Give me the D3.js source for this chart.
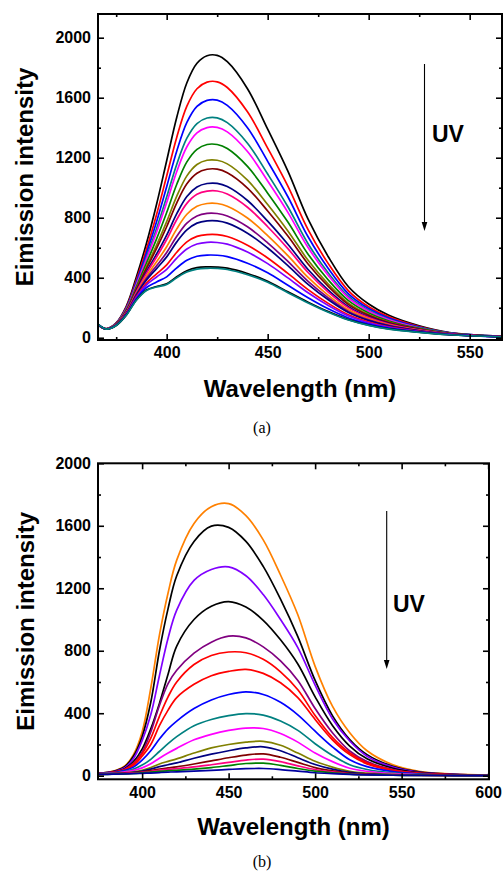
<!DOCTYPE html>
<html><head><meta charset="utf-8">
<script src="https://cdn.jsdelivr.net/npm/d3@7"></script>
<style>body{margin:0;background:#fff}svg{display:block}</style>
</head><body><svg id="c" width="504" height="877"></svg>
<script>
// ---------- Panel (a) data ----------
const aWavelength = [366, 370, 375, 380, 385, 390, 395, 400, 405, 410, 415, 420, 425, 430, 440, 450, 460, 470, 480, 490, 500, 510, 525, 540, 566];
const aSeries = [
  [85, 60, 100, 210, 405, 630, 890, 1180, 1470, 1700, 1830, 1880, 1882, 1840, 1660, 1390, 1110, 790, 540, 340, 225, 150, 80, 35, 10],
  [86, 60, 98, 203, 386, 591, 822, 1078, 1337, 1544, 1660, 1704, 1706, 1668, 1506, 1264, 1010, 721, 494, 313, 207, 139, 75, 33, 10],
  [86, 60, 96, 197, 373, 564, 774, 1007, 1245, 1435, 1542, 1582, 1584, 1549, 1400, 1176, 940, 673, 462, 293, 195, 131, 71, 32, 9],
  [86, 59, 95, 192, 360, 538, 728, 938, 1157, 1330, 1428, 1465, 1466, 1434, 1297, 1091, 873, 627, 432, 275, 183, 123, 67, 31, 9],
  [87, 59, 94, 190, 353, 524, 703, 901, 1108, 1273, 1366, 1401, 1402, 1372, 1241, 1045, 836, 601, 415, 265, 177, 119, 65, 30, 9],
  [87, 59, 92, 185, 340, 498, 659, 835, 1023, 1172, 1256, 1288, 1288, 1261, 1142, 964, 771, 557, 385, 247, 165, 112, 62, 29, 8],
  [87, 59, 91, 181, 329, 475, 618, 774, 944, 1079, 1155, 1183, 1183, 1159, 1050, 888, 712, 516, 358, 231, 155, 105, 58, 28, 8],
  [88, 59, 90, 178, 322, 462, 595, 740, 899, 1026, 1097, 1123, 1124, 1100, 998, 845, 678, 492, 342, 221, 149, 101, 57, 27, 8],
  [88, 59, 89, 174, 312, 441, 558, 684, 827, 942, 1005, 1028, 1029, 1008, 915, 777, 623, 455, 318, 207, 139, 95, 54, 26, 8],
  [88, 59, 89, 172, 306, 429, 538, 655, 788, 896, 956, 977, 978, 958, 870, 740, 594, 435, 304, 199, 134, 91, 52, 25, 7],
  [88, 59, 88, 168, 297, 411, 506, 607, 726, 823, 876, 895, 895, 877, 798, 681, 547, 402, 283, 186, 126, 86, 49, 25, 7],
  [89, 59, 87, 166, 290, 396, 480, 568, 676, 764, 812, 829, 828, 812, 740, 633, 509, 376, 266, 175, 119, 82, 47, 24, 7],
  [89, 58, 86, 163, 285, 385, 461, 539, 639, 719, 764, 779, 779, 764, 697, 598, 481, 356, 253, 168, 114, 79, 46, 23, 7],
  [89, 58, 85, 160, 275, 365, 426, 486, 570, 639, 676, 688, 688, 675, 617, 532, 429, 321, 229, 153, 105, 73, 43, 22, 7],
  [89, 58, 84, 157, 269, 353, 405, 456, 531, 592, 625, 636, 635, 624, 571, 494, 399, 300, 215, 145, 99, 69, 41, 22, 6],
  [90, 58, 83, 154, 260, 335, 372, 406, 466, 516, 543, 551, 550, 541, 497, 433, 350, 267, 193, 132, 91, 64, 39, 21, 6],
  [90, 58, 82, 151, 252, 318, 342, 360, 406, 446, 467, 472, 471, 464, 428, 377, 306, 237, 174, 121, 84, 59, 37, 20, 6],
  [90, 58, 82, 150, 250, 315, 338, 355, 400, 438, 458, 463, 462, 455, 420, 370, 300, 232, 170, 118, 82, 58, 36, 20, 6]
];
const aColors = ["#000000", "#ff0000", "#0000ff", "#008080", "#ff00ff", "#008000", "#808000", "#800000", "#000080", "#ff0080", "#ff8000", "#800080", "#000080", "#ff0000", "#8000ff", "#0000ff", "#000000", "#008080"];
const aXTicks = [400, 450, 500, 550];
const aXMinor = [375, 425, 475, 525];
const aYTicks = [0, 400, 800, 1200, 1600, 2000];
const aYMinor = [200, 600, 1000, 1400, 1800];

// ---------- Panel (b) data ----------
const bWavelength = [374.5, 380, 385, 390, 395, 400, 405, 410, 415, 420, 430, 440, 450, 460, 470, 480, 490, 500, 510, 520, 530, 545, 560, 580, 600.5];
const bSeries = [
  [15, 22, 35, 62, 135, 280, 560, 900, 1170, 1380, 1615, 1722, 1742, 1665, 1510, 1285, 1030, 700, 445, 275, 160, 70, 28, 10, 5],
  [15, 21, 33, 58, 125, 250, 470, 800, 1070, 1280, 1500, 1598, 1590, 1500, 1340, 1130, 890, 610, 385, 232, 135, 60, 25, 9, 4],
  [14, 20, 30, 52, 110, 225, 390, 640, 880, 1060, 1250, 1320, 1337, 1280, 1160, 1000, 820, 580, 365, 222, 125, 55, 22, 8, 4],
  [14, 19, 28, 45, 90, 170, 300, 463, 650, 830, 1000, 1085, 1115, 1080, 995, 870, 715, 505, 322, 190, 108, 48, 20, 7, 3],
  [14, 18, 26, 42, 80, 150, 280, 450, 590, 675, 785, 855, 893, 882, 825, 735, 610, 430, 275, 158, 90, 40, 17, 6, 3],
  [14, 18, 25, 40, 75, 140, 240, 380, 505, 600, 712, 770, 792, 787, 745, 665, 550, 385, 245, 145, 82, 36, 15, 6, 3],
  [13, 17, 23, 36, 65, 125, 200, 320, 420, 500, 585, 640, 668, 681, 655, 595, 500, 360, 230, 135, 76, 33, 14, 5, 3],
  [13, 16, 22, 34, 55, 100, 160, 235, 300, 350, 430, 485, 520, 537, 520, 470, 390, 285, 185, 102, 58, 26, 11, 4, 2],
  [12, 15, 19, 28, 42, 68, 105, 155, 205, 250, 320, 360, 385, 398, 388, 350, 290, 205, 130, 70, 40, 18, 8, 3, 2],
  [12, 14, 17, 24, 34, 50, 76, 112, 145, 175, 230, 265, 290, 305, 302, 270, 215, 145, 90, 48, 28, 13, 6, 3, 2],
  [11, 13, 15, 19, 25, 35, 52, 75, 92, 108, 145, 178, 200, 215, 220, 195, 145, 92, 55, 28, 16, 8, 4, 2, 1],
  [10, 12, 14, 17, 22, 30, 42, 58, 70, 82, 112, 138, 160, 178, 185, 160, 115, 72, 42, 21, 12, 6, 3, 2, 1],
  [10, 11, 13, 15, 18, 24, 32, 43, 50, 57, 75, 95, 115, 132, 140, 118, 85, 52, 31, 15, 9, 5, 3, 2, 1],
  [9, 10, 12, 14, 16, 21, 27, 35, 40, 45, 56, 70, 85, 100, 106, 90, 63, 39, 24, 12, 7, 4, 2, 1, 1],
  [8, 9, 11, 12, 14, 18, 23, 28, 32, 35, 42, 52, 65, 78, 80, 66, 46, 29, 19, 10, 6, 3, 2, 1, 1],
  [8, 9, 10, 11, 13, 15, 17, 20, 23, 25, 29, 34, 40, 45, 46, 39, 29, 19, 13, 8, 5, 3, 2, 1, 1]
];
const bColors = ["#ff8000", "#000000", "#8000ff", "#000000", "#800080", "#ff0000", "#ff0000", "#0000ff", "#008080", "#ff00ff", "#808000", "#000080", "#800000", "#ff0080", "#008000", "#0000a0"];
const bXTicks = [400, 450, 500, 550, 600];
const bXMinor = [425, 475, 525, 575];
const bYTicks = [0, 400, 800, 1200, 1600, 2000];
const bYMinor = [200, 600, 1000, 1400, 1800];

const xTitle = "Wavelength (nm)";
const yTitle = "Eimission intensity";
const arrowLabel = "UV";

// ---------- drawing ----------
const svg = d3.select("#c");
const FONT = "'Liberation Sans', Arial, Helvetica, sans-serif";

function panel(o) {
  const g = svg.append("g");
  const x = d3.scaleLinear().domain(o.xDomain).range([o.left, o.right]);
  const y = d3.scaleLinear().domain(o.yDomain).range([o.bottom, o.top]);
  const id = "clip" + o.name;
  svg.append("clipPath").attr("id", id).append("rect")
    .attr("x", o.left).attr("y", o.top).attr("width", o.right - o.left).attr("height", o.bottom - o.top);

  const line = d3.line().x((d, i) => x(o.wl[i])).y(d => y(d)).curve(d3.curveCatmullRom.alpha(0.5));
  const lines = g.append("g").attr("clip-path", `url(#${id})`);
  o.series.forEach((s, i) => {
    lines.append("path").attr("d", line(s)).attr("fill", "none")
      .attr("stroke", o.colors[i]).attr("stroke-width", 1.7).attr("stroke-linejoin", "round");
  });

  function styleAxis(sel, labels) {
    sel.select(".domain").remove();
    sel.selectAll(".tick line").attr("stroke", "#000").attr("stroke-width", 1.6);
    sel.selectAll("text").attr("font-family", FONT).attr("font-weight", "bold")
      .attr("font-size", 16).attr("fill", "#000");
    if (!labels) sel.selectAll("text").remove();
  }
  const bottom = g.append("g").attr("transform", `translate(0,${o.bottom})`)
    .call(d3.axisBottom(x).tickValues(o.xTicks).tickFormat(d3.format("d")).tickSizeInner(-6).tickSizeOuter(0).tickPadding(7));
  styleAxis(bottom, true);
  styleAxis(g.append("g").attr("transform", `translate(0,${o.bottom})`)
    .call(d3.axisBottom(x).tickValues(o.xMinor).tickSizeInner(-3).tickSizeOuter(0)), false);
  styleAxis(g.append("g").attr("transform", `translate(0,${o.top})`)
    .call(d3.axisTop(x).tickValues(o.xTicks).tickSizeInner(-6).tickSizeOuter(0)), false);
  styleAxis(g.append("g").attr("transform", `translate(0,${o.top})`)
    .call(d3.axisTop(x).tickValues(o.xMinor).tickSizeInner(-3).tickSizeOuter(0)), false);
  const left = g.append("g").attr("transform", `translate(${o.left},0)`)
    .call(d3.axisLeft(y).tickValues(o.yTicks).tickFormat(d3.format("d")).tickSizeInner(-6).tickSizeOuter(0).tickPadding(7));
  styleAxis(left, true);
  styleAxis(g.append("g").attr("transform", `translate(${o.left},0)`)
    .call(d3.axisLeft(y).tickValues(o.yMinor).tickSizeInner(-3).tickSizeOuter(0)), false);
  styleAxis(g.append("g").attr("transform", `translate(${o.right},0)`)
    .call(d3.axisRight(y).tickValues(o.yTicks).tickSizeInner(-6).tickSizeOuter(0)), false);
  styleAxis(g.append("g").attr("transform", `translate(${o.right},0)`)
    .call(d3.axisRight(y).tickValues(o.yMinor).tickSizeInner(-3).tickSizeOuter(0)), false);

  g.append("rect").attr("x", o.left).attr("y", o.top)
    .attr("width", o.right - o.left).attr("height", o.bottom - o.top)
    .attr("fill", "none").attr("stroke", "#000").attr("stroke-width", 2);

  g.append("text").text(xTitle).attr("x", (o.left + o.right) / 2).attr("y", o.xTitleY)
    .attr("text-anchor", "middle").attr("font-family", FONT).attr("font-weight", "bold").attr("font-size", 24);
  g.append("text").text(yTitle)
    .attr("transform", `translate(${o.yTitleX},${(o.top + o.bottom) / 2}) rotate(-90)`)
    .attr("text-anchor", "middle").attr("font-family", FONT).attr("font-weight", "bold").attr("font-size", 24);

  // UV arrow
  g.append("line").attr("x1", o.arrowX).attr("x2", o.arrowX).attr("y1", o.arrowY1).attr("y2", o.arrowY2 - 6)
    .attr("stroke", "#000").attr("stroke-width", 1.1);
  g.append("path").attr("d", `M${o.arrowX - 2.8},${o.arrowY2 - 9} L${o.arrowX + 2.8},${o.arrowY2 - 9} L${o.arrowX},${o.arrowY2} Z`).attr("fill", "#000");
  g.append("text").text(arrowLabel).attr("x", o.uvX).attr("y", o.uvY)
    .attr("font-family", FONT).attr("font-weight", "bold").attr("font-size", 23);

  g.append("text").text(o.caption).attr("x", o.capX).attr("y", o.capY).attr("text-anchor", "middle")
    .attr("font-family", "'Liberation Serif', 'Times New Roman', serif").attr("font-size", 16);
}

panel({
  name: "a", wl: aWavelength, series: aSeries, colors: aColors,
  xDomain: [366, 566], yDomain: [-15, 2158],
  left: 98, right: 502, top: 14, bottom: 340,
  xTicks: aXTicks, xMinor: aXMinor, yTicks: aYTicks, yMinor: aYMinor,
  xTitleY: 397, yTitleX: 33,
  arrowX: 424.5, arrowY1: 64, arrowY2: 231, uvX: 432, uvY: 141.5,
  caption: "(a)", capX: 262, capY: 433
});
panel({
  name: "b", wl: bWavelength, series: bSeries, colors: bColors,
  xDomain: [374.5, 600.5], yDomain: [-23, 2000],
  left: 98, right: 489, top: 463.3, bottom: 779.3,
  xTicks: bXTicks, xMinor: bXMinor, yTicks: bYTicks, yMinor: bYMinor,
  xTitleY: 835, yTitleX: 34,
  arrowX: 386.7, arrowY1: 511, arrowY2: 669, uvX: 393, uvY: 611.5,
  caption: "(b)", capX: 262, capY: 867
});
</script>
</body></html>
